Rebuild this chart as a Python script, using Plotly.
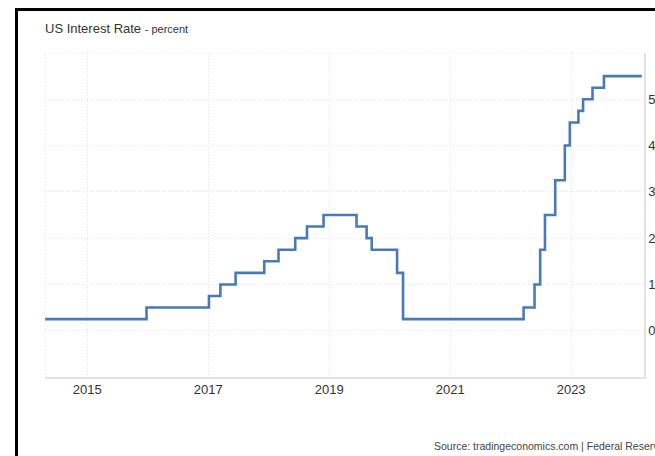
import plotly.graph_objects as go

# Federal funds target rate (upper bound), percent, at each change
dates = [
    "2014-04-21", "2015-12-25", "2017-01-05", "2017-03-15", "2017-06-15",
    "2017-12-05", "2018-03-01", "2018-06-10", "2018-08-20", "2018-11-28",
    "2019-06-15", "2019-08-15", "2019-09-15", "2020-02-15", "2020-03-22",
    "2022-03-20", "2022-05-25", "2022-06-28", "2022-07-27", "2022-09-27",
    "2022-11-24", "2022-12-24", "2023-02-14", "2023-03-14", "2023-05-10",
    "2023-07-18", "2024-03-03",
]
rates = [
    0.25, 0.50, 0.75, 1.00, 1.25,
    1.50, 1.75, 2.00, 2.25, 2.50,
    2.25, 2.00, 1.75, 1.25, 0.25,
    0.50, 1.00, 1.75, 2.50, 3.25,
    4.00, 4.50, 4.75, 5.00, 5.25,
    5.50, 5.50,
]
year_ticks = ["2015-01-01", "2017-01-01", "2019-01-01", "2021-01-01", "2023-01-01"]
year_labels = ["2015", "2017", "2019", "2021", "2023"]
rate_ticks = [0, 1, 2, 3, 4, 5]
rate_labels = ["0", "1", "2", "3", "4", "5"]

W, H = 655, 456
ML, MR, MT, MB = 45, 11, 53, 79
PW, PH = W - ML - MR, H - MT - MB


def px_x(p):
    return (p - ML) / PW


def px_y(p):
    return (H - MB - p) / PH


FONT = "Arial, Liberation Sans, sans-serif"
GRID = "#e2e2e2"
DOT = "1px,2px"

fig = go.Figure()
fig.add_trace(go.Scatter(
    x=dates, y=rates, mode="lines",
    line=dict(color="#4a7ab4", width=2.6, shape="hv"),
    hoverinfo="skip", showlegend=False,
))

shapes = [
    # dotted top and left frame of the plotting area
    dict(type="line", xref="paper", yref="paper", x0=0, x1=1, y0=1, y1=1,
         line=dict(color=GRID, width=1, dash=DOT)),
    dict(type="line", xref="paper", yref="paper", x0=0, x1=0, y0=0, y1=1,
         line=dict(color=GRID, width=1, dash=DOT)),
    # black frame around the page
    dict(type="rect", xref="paper", yref="paper", x0=px_x(15), x1=px_x(18),
         y0=px_y(8), y1=px_y(460), fillcolor="black", line=dict(width=0)),
    dict(type="rect", xref="paper", yref="paper", x0=px_x(15), x1=px_x(660),
         y0=px_y(8), y1=px_y(11), fillcolor="black", line=dict(width=0)),
]

fig.update_layout(
    width=W, height=H,
    margin=dict(l=ML, r=MR, t=MT, b=MB, autoexpand=False),
    paper_bgcolor="white", plot_bgcolor="white",
    font=dict(family=FONT, color="#333333", size=13),
    shapes=shapes,
    annotations=[
        dict(text="US Interest Rate <span style='font-size:11px'>- percent</span>",
             xref="paper", yref="paper", x=px_x(43), y=px_y(29),
             xanchor="left", yanchor="middle", showarrow=False,
             font=dict(family=FONT, size=13, color="#333333")),
        dict(text="Source: tradingeconomics.com | Federal Reserve",
             xref="paper", yref="paper", x=px_x(432), y=px_y(445.5),
             xanchor="left", yanchor="middle", showarrow=False,
             font=dict(family=FONT, size=10.5, color="#444444")),
    ],
)

fig.update_xaxes(
    type="date", range=["2014-04-21", "2024-03-16"],
    tickvals=year_ticks, ticktext=year_labels,
    showgrid=True, gridcolor=GRID, griddash=DOT, gridwidth=1,
    showline=True, linecolor="#e3e3e3", linewidth=1.5,
    ticks="", zeroline=False, fixedrange=True,
    tickfont=dict(size=13, color="#333333"),
)
fig.update_yaxes(
    range=[-1, 6], side="right",
    tickvals=rate_ticks, ticktext=rate_labels,
    showgrid=True, gridcolor=GRID, griddash=DOT, gridwidth=1,
    showline=True, linecolor="#e3e3e3", linewidth=1.5,
    ticks="", zeroline=False, fixedrange=True,
    tickfont=dict(size=13, color="#333333"),
)

fig.write_html("out.html", config={"displayModeBar": False})
